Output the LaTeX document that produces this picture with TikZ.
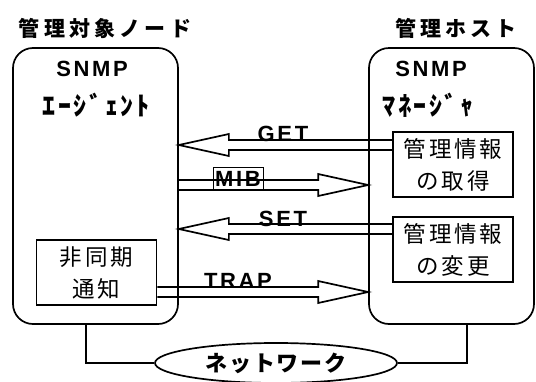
\documentclass[tikz,border=0pt]{standalone}
\usepackage{fontspec}
\usetikzlibrary{calc,shapes.geometric,positioning}
\setmainfont{Liberation Sans}
\newfontfamily\latwide[LetterSpace=12]{Liberation Sans}
\newfontfamily\jpttl[LetterSpace=20]{Noto Sans CJK JP}
\newfontfamily\jpbox[LetterSpace=13]{Noto Sans CJK JP}
\newfontfamily\jpkana[LetterSpace=10]{Noto Sans CJK JP}
\newfontfamily\jpnet[LetterSpace=8]{Noto Sans CJK JP}
\tikzstyle{l1}=[line width=1.7pt]
\tikzstyle{frame}=[draw, l1, rounded corners=20pt, minimum width=165pt, minimum height=276pt, inner sep=0pt]
\tikzstyle{infobox}=[draw, l1, align=center, inner sep=0pt, minimum width=120pt, minimum height=65pt, font=\jpbox\fontsize{22.5}{32}\selectfont]
\tikzstyle{title}=[inner sep=0pt, font=\jpttl\bfseries\fontsize{21}{21}\selectfont]
\tikzstyle{proto}=[inner sep=0pt, font=\latwide\bfseries\fontsize{22}{22}\selectfont]
\tikzstyle{kana}=[inner sep=0pt, font=\jpkana\bfseries\fontsize{26}{26}\selectfont]
\tikzstyle{hollow}=[draw, l1, to path={let \p1=(\tikztostart), \p2=(\tikztotarget), \n2={ifthenelse(\x2>\x1,-50pt,50pt)} in
    (\x1,\y1+5pt) -- (\x2+\n2,\y1+5pt) -- (\x2+\n2,\y1+11pt) -- (\x2,\y1)
    -- (\x2+\n2,\y1-11pt) -- (\x2+\n2,\y1-5pt) -- (\x1,\y1-5pt)}]

\begin{document}
\begin{tikzpicture}[x=1pt, y=-1pt]
    \useasboundingbox (0,0) rectangle (536,381);

    % titles
    \node[title] (ttl-node) at (105,28) {管理対象ノード};
    \node[title] (ttl-host) at (456,28) {管理ホスト};

    % agent and manager
    \node[frame] (agent) at (95.5,186) {};
    \node[frame] (manager) at (451.5,186) {};
    \node[proto] (snmp-a) at (92,69) {SNMP};
    \node[kana] (agent-lbl) at (96,105) {ｴｰｼﾞｪﾝﾄ};
    \node[proto] (snmp-m) at (431,69) {SNMP};
    \node[kana] (mgr-lbl) at (428,105) {ﾏﾈｰｼﾞｬ};

    \node[infobox] (getinfo) at (453,164.5) {管理情報\\の取得};
    \node[infobox] (setinfo) at (453,249.5) {管理情報\\の変更};
    \node[infobox] (notify) at (96.5,272.5) {非同期\\通知};

    % messages
    \coordinate (get-s) at (getinfo.west |- 0,145);
    \coordinate (get-e) at (agent.east |- 0,145);
    \coordinate (mib-s) at (agent.east |- 0,185);
    \coordinate (mib-e) at (manager.west |- 0,185);
    \coordinate (set-s) at (setinfo.west |- 0,229);
    \coordinate (set-e) at (agent.east |- 0,229);
    \coordinate (trap-s) at (notify.east |- 0,292);
    \coordinate (trap-e) at (manager.west |- 0,292);
    \path[hollow] (get-s) to (get-e);
    \path[hollow] (mib-s) to (mib-e);
    \path[hollow] (set-s) to (set-e);
    \path[hollow] (trap-s) to (trap-e);
    \node[proto] (get) at (283,134) {GET};
    \node[proto, draw, line width=1pt, minimum width=50pt, minimum height=23pt] (mib) at (238,178.5) {MIB};
    \node[proto] (set) at (283,219) {SET};
    \node[proto] (trap) at (238,281) {TRAP};

    % network
    \node[draw, ellipse, l1, minimum width=242pt, minimum height=40pt, inner sep=0pt,
          font=\jpnet\bfseries\fontsize{22}{22}\selectfont] (network) at (276,363) {ネットワーク};
    \draw[l1] (agent.south -| 86,0) |- (network.west);
    \draw[l1] (manager.south -| 467,0) |- (network.east);
\end{tikzpicture}
\end{document}
